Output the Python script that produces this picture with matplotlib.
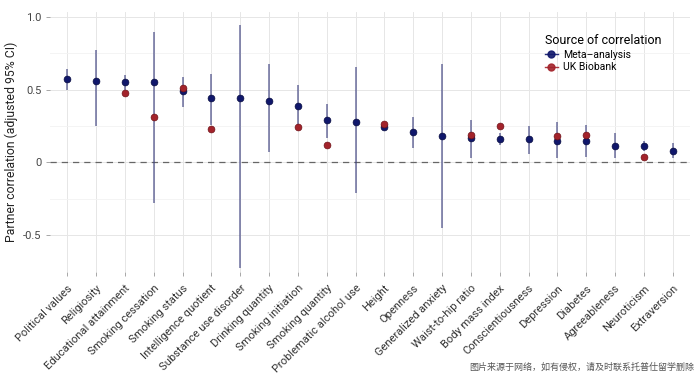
import matplotlib.pyplot as plt
from matplotlib.lines import Line2D
from matplotlib.ticker import FixedLocator

plt.rcParams['font.family'] = ['Roboto', 'Noto Sans CJK SC', 'DejaVu Sans']

# Traits, ordered by meta-analysis estimate
traits = ['Political values', 'Religiosity', 'Educational attainment', 'Smoking cessation',
          'Smoking status', 'Intelligence quotient', 'Substance use disorder', 'Drinking quantity',
          'Smoking initiation', 'Smoking quantity', 'Problematic alcohol use', 'Height',
          'Openness', 'Generalized anxiety', 'Waist-to-hip ratio', 'Body mass index',
          'Conscientiousness', 'Depression', 'Diabetes', 'Agreeableness', 'Neuroticism',
          'Extraversion']

# Meta-analysis estimate with 95% CI
meta = [0.575, 0.56, 0.55, 0.55, 0.49, 0.44, 0.44, 0.42, 0.385, 0.29, 0.28,
        0.24, 0.21, 0.18, 0.17, 0.16, 0.16, 0.15, 0.15, 0.11, 0.11, 0.08]
meta_lo = [0.50, 0.25, 0.50, -0.28, 0.38, 0.26, -0.73, 0.07, 0.25, 0.17, -0.21,
           0.22, 0.10, -0.45, 0.03, 0.12, 0.06, 0.03, 0.04, 0.03, 0.08, 0.03]
meta_hi = [0.64, 0.77, 0.60, 0.90, 0.59, 0.61, 0.945, 0.68, 0.53, 0.405, 0.655,
           0.27, 0.31, 0.68, 0.29, 0.20, 0.25, 0.28, 0.26, 0.20, 0.15, 0.13]

# UK Biobank estimates (None = not available)
ukb = [None, None, 0.48, 0.315, 0.51, 0.23, None, None, 0.245, 0.12, None,
       0.265, None, None, 0.19, 0.25, None, 0.18, 0.19, None, 0.04, None]

navy = '#10176b'
red = '#a3232b'
x = list(range(len(traits)))

fig = plt.figure(figsize=(6.98, 3.78), dpi=100)
ax = fig.add_axes([50 / 698, 1 - 272 / 378, 640 / 698, 260 / 378])

# CI lines
ax.vlines(x, meta_lo, meta_hi, color='#3b3f7e', alpha=0.75, linewidth=1.1, zorder=2)

# zero reference
ax.axhline(0, color='#666666', linestyle=(0, (5, 4)), linewidth=0.9, zorder=1)

# points
ax.scatter(x, meta, s=24, color=navy, edgecolor='#080c40', linewidth=0.5, zorder=3)
uk_x = [i for i, v in zip(x, ukb) if v is not None]
uk_y = [v for v in ukb if v is not None]
ax.scatter(uk_x, uk_y, s=24, color=red, edgecolor='#6e1218', linewidth=0.5, zorder=4)

ax.set_xlim(-0.6, len(traits) - 0.4)
ax.set_ylim(-0.755, 1.035)
ax.set_xticks(x)
ax.set_xticklabels(traits, rotation=45, ha='right', rotation_mode='anchor',
                   fontsize=8, color='#333333')
ax.set_yticks([-0.5, 0, 0.5, 1.0])
ax.set_yticklabels(['-0.5', '0', '0.5', '1.0'], fontsize=8, color='#444444')
ax.yaxis.set_minor_locator(FixedLocator([-0.25, 0.25, 0.75]))
ax.tick_params(axis='both', length=3, width=0.6, color='#999999', pad=3)
ax.tick_params(axis='y', which='minor', length=0)
ax.tick_params(axis='x', pad=5)

ax.grid(True, which='major', color='#e6e6e6', linewidth=0.7)
ax.grid(True, which='minor', axis='y', color='#f2f2f2', linewidth=0.6)
ax.set_axisbelow(True)
for s in ax.spines.values():
    s.set_visible(False)

ax.set_ylabel('Partner correlation (adjusted 95% CI)', fontsize=8.8, color='#222222')
ax.yaxis.set_label_coords(-(50 - 18) / 640, 0.5)

handles = [Line2D([0], [0], color=navy, marker='o', markersize=5, linewidth=1.0, alpha=0.9),
           Line2D([0], [0], color=red, marker='o', markersize=5, linewidth=1.0, alpha=0.9)]
leg = ax.legend(handles, ['Meta–analysis', 'UK Biobank'], title='Source of correlation',
                loc='upper left', bbox_to_anchor=((545 - 50) / 640, (272 - 34) / 260),
                frameon=False, fontsize=7.5, title_fontsize=9, handlelength=1.2,
                handletextpad=0.5, labelspacing=0.25, borderaxespad=0, borderpad=0)
leg._legend_box.align = 'left'

fig.text(469 / 698, 1 - 367 / 378, '图片来源于网络，如有侵权，请及时联系托普仕留学删除',
         fontsize=6.5, color='#555555', ha='left', va='center')

fig.savefig('out.png', dpi=100, facecolor='white')
